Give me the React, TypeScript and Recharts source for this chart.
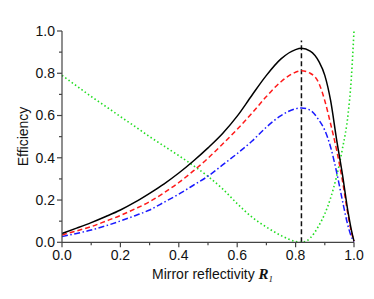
import React from 'react';
import { LineChart, Line, XAxis, YAxis, ReferenceLine, Label } from 'recharts';

const reflectivity = [0, 0.05, 0.1, 0.15, 0.2, 0.25, 0.3, 0.35, 0.4, 0.45, 0.5, 0.55, 0.6, 0.65, 0.7, 0.75, 0.8, 0.82, 0.85, 0.88, 0.9, 0.92, 0.94, 0.96, 0.98, 0.99, 1.0];
const effBlack = [0.042, 0.067, 0.093, 0.122, 0.153, 0.19, 0.232, 0.277, 0.328, 0.385, 0.447, 0.515, 0.597, 0.695, 0.79, 0.868, 0.912, 0.918, 0.905, 0.855, 0.79, 0.67, 0.49, 0.325, 0.14, 0.065, 0.005];
const effRed = [0.035, 0.054, 0.074, 0.1, 0.127, 0.158, 0.192, 0.235, 0.283, 0.338, 0.398, 0.465, 0.535, 0.61, 0.69, 0.76, 0.805, 0.812, 0.8, 0.752, 0.67, 0.56, 0.44, 0.295, 0.125, 0.055, 0.005];
const effBlue = [0.027, 0.042, 0.058, 0.078, 0.101, 0.126, 0.153, 0.19, 0.228, 0.27, 0.313, 0.366, 0.42, 0.478, 0.545, 0.6, 0.632, 0.636, 0.625, 0.578, 0.53, 0.45, 0.335, 0.2, 0.075, 0.03, 0.003];
const effGreen = [0.79, 0.74, 0.69, 0.643, 0.595, 0.548, 0.5, 0.455, 0.41, 0.363, 0.312, 0.253, 0.183, 0.12, 0.072, 0.032, 0.004, 0, 0.02, 0.08, 0.135, 0.21, 0.31, 0.44, 0.61, 0.76, 1.0];

const optimumR = 0.82;
const optimumTop = 0.955;

const xTicks = [0, 0.1, 0.2, 0.3, 0.4, 0.5, 0.6, 0.7, 0.8, 0.9, 1.0];
const yTicks = [0, 0.1, 0.2, 0.3, 0.4, 0.5, 0.6, 0.7, 0.8, 0.9, 1.0];

const data = reflectivity.map((r, i) => ({
  r,
  black: effBlack[i],
  red: effRed[i],
  blue: effBlue[i],
  green: effGreen[i],
}));

const FONT = '"Liberation Sans", Arial, sans-serif';
const AXIS = '#444';

const isMajor = (v: number) => Math.round(v * 10) % 2 === 0;

const YTick = (props: any) => {
  const { x, y, payload } = props;
  const v = payload.value as number;
  const major = isMajor(v);
  return (
    <g>
      <line x1={x} x2={x - (major ? 5 : 3)} y1={y} y2={y} stroke={AXIS} strokeWidth={1.2} />
      {major && (
        <text x={x - 7} y={y} dy="0.35em" textAnchor="end" fontSize={14} fontFamily={FONT} fill="#111">
          {v.toFixed(1)}
        </text>
      )}
    </g>
  );
};

const XTick = (props: any) => {
  const { x, y, payload } = props;
  const v = payload.value as number;
  const major = isMajor(v);
  return (
    <g>
      <line x1={x} x2={x} y1={y} y2={y + (major ? 5 : 3)} stroke={AXIS} strokeWidth={1.2} />
      {major && (
        <text x={x} y={y + 18} textAnchor="middle" fontSize={14} fontFamily={FONT} fill="#111">
          {v.toFixed(1)}
        </text>
      )}
    </g>
  );
};

export default function App() {
  return (
    <div style={{ position: 'absolute', left: 0, top: 0 }}>
      <LineChart width={374} height={299} data={data} margin={{ top: 31, right: 20, bottom: 26.7, left: 0 }}>
        <XAxis
          dataKey="r"
          type="number"
          domain={[0, 1]}
          ticks={xTicks}
          interval={0}
          tickSize={0}
          tickMargin={0}
          tickLine={false}
          tick={<XTick />}
          height={30}
          axisLine={{ stroke: AXIS, strokeWidth: 1.2 }}
        >
          <Label
            content={() => (
              <text x={152} y={279} fontSize={14} fontFamily={FONT} fill="#111">
                Mirror reflectivity{' '}
                <tspan fontFamily='"Liberation Serif", "Times New Roman", serif' fontWeight="bold" fontStyle="italic" fontSize={15}>
                  R
                </tspan>
                <tspan fontFamily='"Liberation Serif", "Times New Roman", serif' fontStyle="italic" fontSize={9} dy={3}>
                  1
                </tspan>
              </text>
            )}
          />
        </XAxis>
        <YAxis
          type="number"
          domain={[0, 1]}
          ticks={yTicks}
          interval={0}
          tickSize={0}
          tickMargin={0}
          tickLine={false}
          tick={<YTick />}
          width={62}
          axisLine={{ stroke: AXIS, strokeWidth: 1.2 }}
        >
          <Label
            content={() => (
              <text transform="rotate(-90)" x={-136.5} y={28} textAnchor="middle" fontSize={14} fontFamily={FONT} fill="#111">
                Efficiency
              </text>
            )}
          />
        </YAxis>
        <ReferenceLine
          segment={[{ x: optimumR, y: 0 }, { x: optimumR, y: optimumTop }]}
          stroke="#111"
          strokeWidth={1.5}
          strokeDasharray="5 3"
        />
        <Line dataKey="green" type="monotone" stroke="#22dd22" strokeWidth={1.6} strokeDasharray="1.5 2.5" dot={false} isAnimationActive={false} />
        <Line dataKey="blue" type="monotone" stroke="#1a1aff" strokeWidth={1.5} strokeDasharray="6 2.5 1.5 2.5" dot={false} isAnimationActive={false} />
        <Line dataKey="red" type="monotone" stroke="#ff1a1a" strokeWidth={1.5} strokeDasharray="5 3" dot={false} isAnimationActive={false} />
        <Line dataKey="black" type="monotone" stroke="#000" strokeWidth={1.5} dot={false} isAnimationActive={false} />
      </LineChart>
    </div>
  );
}
